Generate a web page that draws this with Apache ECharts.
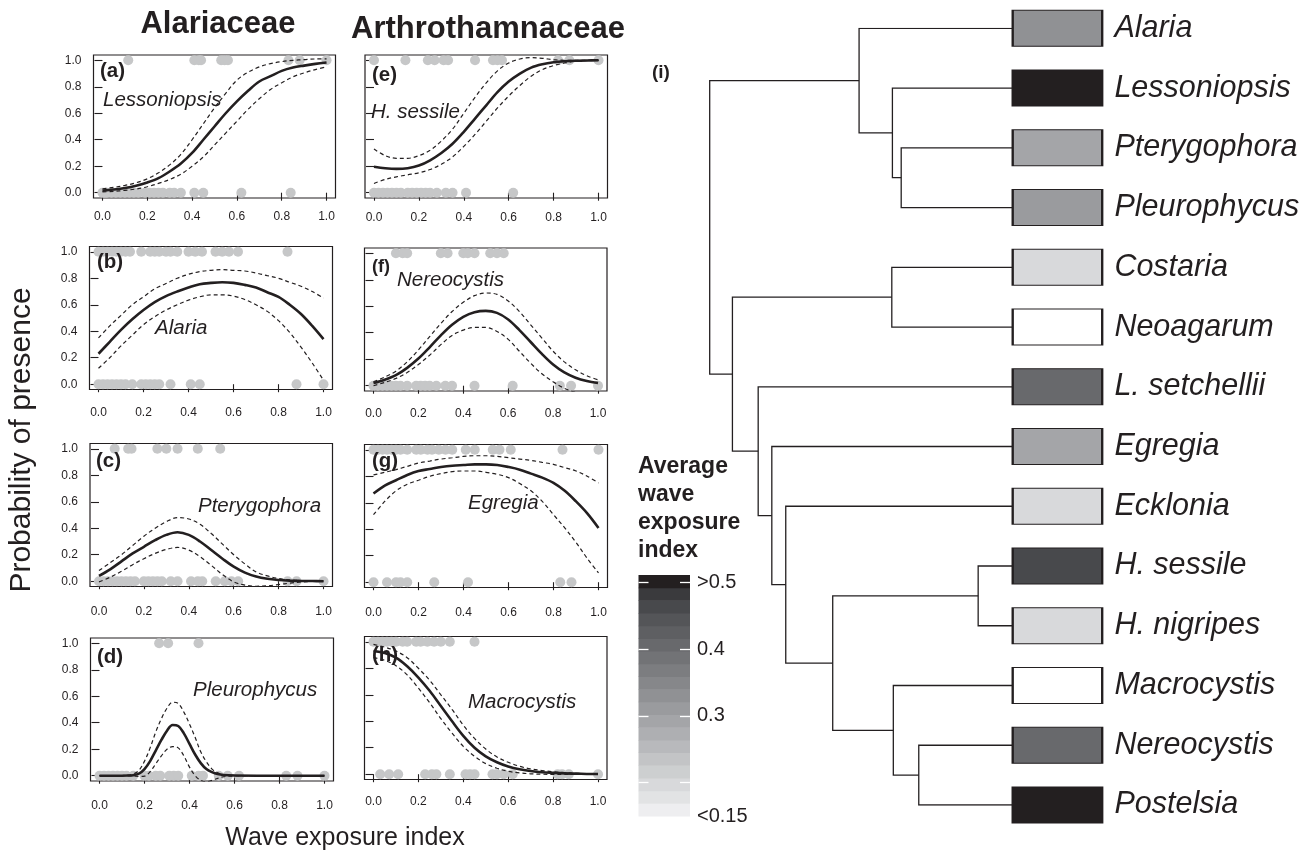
<!DOCTYPE html>
<html><head><meta charset="utf-8">
<script src="https://cdn.jsdelivr.net/npm/echarts@6/dist/echarts.min.js"></script>
<style>html,body{margin:0;padding:0;background:#fff}#c{width:1314px;height:856px}</style>
</head><body><div id="c"></div><script>
// ---------------- DATA ----------------
const tickVals = [0, 0.2, 0.4, 0.6, 0.8, 1.0];
const xGrid = [0,0.05,0.1,0.15,0.2,0.25,0.3,0.35,0.4,0.45,0.5,0.55,0.6,0.65,0.7,0.75,0.8,0.85,0.9,0.95,1.0];
const xGridD = [0,0.05,0.1,0.125,0.15,0.175,0.2,0.225,0.25,0.275,0.3,0.325,0.35,0.375,0.4,0.425,0.45,0.475,0.5,0.525,0.55,0.6,0.7,0.8,0.9,1.0];

// (a) Lessoniopsis
const fitA = [0.016,0.024,0.035,0.052,0.077,0.11,0.16,0.22,0.3,0.4,0.5,0.6,0.69,0.77,0.84,0.88,0.92,0.945,0.96,0.973,0.983];
const upA  = [0.03,0.04,0.055,0.075,0.105,0.15,0.21,0.29,0.4,0.52,0.64,0.75,0.85,0.91,0.95,0.975,0.99,1.0,1.005,1.01,1.01];
const loA  = [0.006,0.01,0.018,0.028,0.045,0.07,0.1,0.14,0.2,0.27,0.36,0.45,0.54,0.63,0.71,0.78,0.83,0.875,0.905,0.93,0.95];
const presA = [0.115,0.41,0.43,0.44,0.53,0.545,0.56,0.83,0.88,1.0];
const absA  = [0,0.01,0.02,0.04,0.06,0.08,0.1,0.12,0.14,0.16,0.19,0.21,0.23,0.25,0.27,0.3,0.32,0.35,0.41,0.45,0.62,0.84];
// (b) Alaria
const fitB = [0.23,0.32,0.41,0.49,0.56,0.62,0.665,0.7,0.73,0.755,0.765,0.77,0.765,0.75,0.73,0.695,0.66,0.6,0.53,0.44,0.34];
const upB  = [0.35,0.44,0.52,0.6,0.66,0.72,0.76,0.8,0.83,0.85,0.86,0.865,0.86,0.855,0.84,0.82,0.8,0.77,0.74,0.7,0.65];
const loB  = [0.12,0.2,0.29,0.37,0.45,0.51,0.56,0.6,0.635,0.66,0.675,0.675,0.665,0.64,0.6,0.55,0.48,0.39,0.28,0.16,0.03];
const presB = [0,0.02,0.04,0.06,0.08,0.1,0.12,0.14,0.19,0.23,0.25,0.27,0.3,0.32,0.35,0.4,0.43,0.46,0.52,0.55,0.58,0.62,0.84];
const absB  = [0,0.02,0.04,0.06,0.08,0.1,0.12,0.15,0.19,0.21,0.23,0.25,0.27,0.32,0.41,0.45,0.88,1.0];
// (c) Pterygophora
const fitC = [0.04,0.09,0.15,0.21,0.26,0.31,0.35,0.37,0.35,0.3,0.235,0.17,0.11,0.065,0.035,0.018,0.009,0.004,0.002,0.001,0.0];
const upC  = [0.08,0.14,0.2,0.27,0.34,0.4,0.45,0.48,0.47,0.43,0.36,0.28,0.2,0.13,0.07,0.04,0.02,0.01,0.004,0.002,0.0];
const loC  = [-0.005,0.03,0.075,0.125,0.17,0.21,0.24,0.255,0.235,0.185,0.12,0.05,-0.005,-0.03,-0.038,-0.035,-0.025,-0.015,-0.006,-0.002,0.0];
const presC = [0.07,0.13,0.145,0.26,0.3,0.35,0.44,0.54];
const absC  = [0,0.02,0.04,0.06,0.08,0.1,0.12,0.14,0.16,0.2,0.22,0.24,0.26,0.28,0.32,0.35,0.41,0.44,0.46,0.52,0.56,0.59,0.62,0.84,0.88,1.0];
// (d) Pleurophycus
const fitD = [0,0,0,0.001,0.004,0.015,0.05,0.11,0.19,0.27,0.34,0.383,0.375,0.32,0.24,0.16,0.095,0.05,0.027,0.012,0.005,0.001,0,0,0,0];
const upD  = [0,0,0.001,0.004,0.012,0.04,0.11,0.21,0.33,0.43,0.51,0.555,0.545,0.48,0.39,0.29,0.18,0.105,0.05,0.022,0.009,0.002,0,0,0,0];
const loD  = [0,0,0,-0.001,-0.003,-0.005,-0.003,0.03,0.09,0.15,0.2,0.22,0.21,0.15,0.065,0.0,-0.035,-0.045,-0.035,-0.02,-0.008,-0.002,0,0,0,0];
const presD = [0.265,0.305,0.44];
const absD  = [0,0.02,0.04,0.06,0.08,0.1,0.12,0.15,0.2,0.22,0.25,0.27,0.31,0.33,0.35,0.41,0.44,0.46,0.53,0.57,0.62,0.83,0.88,1.0];
// (e) H. sessile
const fitE = [0.196,0.185,0.18,0.185,0.205,0.245,0.3,0.37,0.46,0.56,0.66,0.76,0.84,0.9,0.945,0.97,0.985,0.993,0.997,0.999,1.0];
const upE  = [0.33,0.28,0.26,0.26,0.28,0.32,0.39,0.48,0.6,0.72,0.83,0.92,0.98,1.01,1.02,1.015,1.005,1.0,1.0,1.0,1.0];
const loE  = [0.07,0.1,0.12,0.135,0.15,0.175,0.215,0.27,0.35,0.44,0.54,0.64,0.73,0.81,0.88,0.93,0.96,0.98,0.993,0.998,1.0];
const presE = [0,0.14,0.24,0.27,0.31,0.33,0.45,0.53,0.55,0.57,0.82,0.87,1.0];
const absE  = [0,0.02,0.04,0.06,0.08,0.1,0.12,0.15,0.17,0.19,0.21,0.23,0.25,0.28,0.32,0.35,0.41,0.62];
// (f) Nereocystis
const fitF = [0.02,0.045,0.08,0.135,0.205,0.29,0.38,0.46,0.52,0.555,0.565,0.55,0.5,0.42,0.33,0.24,0.16,0.1,0.06,0.035,0.02];
const upF  = [0.03,0.065,0.11,0.18,0.27,0.37,0.47,0.56,0.63,0.68,0.7,0.69,0.64,0.56,0.46,0.36,0.26,0.18,0.12,0.075,0.045];
const loF  = [0.0,0.025,0.055,0.1,0.16,0.23,0.31,0.38,0.42,0.44,0.44,0.41,0.35,0.26,0.17,0.09,0.03,-0.02,-0.05,-0.07,-0.08];
const presF = [0.1,0.13,0.15,0.3,0.33,0.4,0.42,0.45,0.52,0.55,0.58];
const absF  = [0,0.02,0.04,0.06,0.08,0.1,0.12,0.15,0.19,0.21,0.23,0.25,0.28,0.32,0.35,0.45,0.62,0.83,0.88,1.0];
// (g) Egregia
const fitG = [0.67,0.73,0.77,0.81,0.84,0.855,0.87,0.88,0.885,0.89,0.89,0.885,0.87,0.85,0.82,0.79,0.75,0.69,0.61,0.52,0.41];
const upG  = [0.81,0.83,0.85,0.875,0.9,0.915,0.93,0.94,0.95,0.955,0.955,0.95,0.94,0.93,0.92,0.905,0.89,0.865,0.84,0.8,0.75];
const loG  = [0.51,0.61,0.69,0.74,0.77,0.8,0.82,0.835,0.84,0.84,0.83,0.815,0.79,0.745,0.69,0.61,0.51,0.41,0.3,0.18,0.07];
const presG = [0,0.02,0.04,0.06,0.08,0.1,0.12,0.15,0.19,0.21,0.24,0.26,0.29,0.32,0.35,0.41,0.45,0.53,0.56,0.61,0.84,1.0];
const absG  = [0,0.06,0.1,0.12,0.15,0.27,0.42,0.83,0.88];
// (h) Macrocystis
const fitH = [0.93,0.915,0.88,0.815,0.73,0.63,0.515,0.4,0.29,0.2,0.135,0.09,0.058,0.037,0.024,0.015,0.01,0.006,0.004,0.002,0.001];
const upH  = [0.98,0.96,0.93,0.88,0.8,0.71,0.6,0.49,0.37,0.27,0.19,0.13,0.09,0.06,0.04,0.028,0.018,0.012,0.007,0.004,0.002];
const loH  = [0.88,0.86,0.82,0.75,0.65,0.54,0.42,0.31,0.21,0.135,0.08,0.045,0.022,0.01,0.003,0.0,-0.002,-0.002,0.0,0.0,0.0];
const presH = [0,0.02,0.04,0.06,0.08,0.1,0.13,0.15,0.19,0.21,0.24,0.27,0.3,0.34,0.45];
const absH  = [0.03,0.07,0.11,0.23,0.26,0.28,0.34,0.41,0.43,0.45,0.53,0.55,0.58,0.62,0.82,0.84,0.87,1.0];

const panelLetters = ['(a)','(b)','(c)','(d)','(e)','(f)','(g)','(h)'];
const panelSpecies = ['Lessoniopsis','Alaria','Pterygophora','Pleurophycus','H. sessile','Nereocystis','Egregia','Macrocystis'];
const familyTitles = ['Alariaceae','Arthrothamnaceae'];

// Dendrogram
const tipNames = ['Alaria','Lessoniopsis','Pterygophora','Pleurophycus','Costaria','Neoagarum','L. setchellii','Egregia','Ecklonia','H. sessile','H. nigripes','Macrocystis','Nereocystis','Postelsia'];
const tipExposure = [0.33,0.52,0.29,0.32,0.195,0.12,0.405,0.29,0.19,0.46,0.19,0.12,0.405,0.52];
const mergeLeft   = ['Pterygophora','Lessoniopsis','Alaria','Costaria','H. sessile','Nereocystis','Macrocystis','m4','Ecklonia','Egregia','L. setchellii','m3','m2'];
const mergeRight  = ['Pleurophycus','m0','m1','Neoagarum','H. nigripes','Postelsia','m5','m6','m7','m8','m9','m10','m11'];
const mergeHeight = [0.368,0.397,0.507,0.399,0.114,0.310,0.394,0.594,0.749,0.795,0.840,0.925,1.0];

// Colour key
const keyBandLow  = [0.150,0.169,0.188,0.207,0.226,0.245,0.264,0.283,0.302,0.321,0.340,0.359,0.378,0.397,0.416,0.435,0.454,0.473,0.492];
const keyBandHigh = [0.169,0.188,0.207,0.226,0.245,0.264,0.283,0.302,0.321,0.340,0.359,0.378,0.397,0.416,0.435,0.454,0.473,0.492,0.511];
const keyTicks = [0.2,0.3,0.4,0.5];
const keyLabelVals = [0.15,0.3,0.4,0.5];
const keyTitle = 'Average\nwave\nexposure\nindex';

// ---------------- STYLE / LAYOUT ----------------
const INK = '#231f20', DOT = '#c6c7c8', FONT = '"Liberation Sans", Arial, sans-serif';
const keyPalette = ['#eeeef0','#e2e3e4','#d8d9db','#cdcfd0','#c3c4c6','#b8b9bc','#aeafb2','#a4a5a8','#9a9b9e','#909194','#86878a','#7c7d80','#727376','#68696c','#5e5f62','#545558','#48494c','#3a3a3d','#231f20'];
function exposureColor(v){
  if (v < keyBandLow[0]) return '#ffffff';
  for (let i = keyBandLow.length-1; i >= 0; i--) if (v >= keyBandLow[i]) return keyPalette[i];
  return keyPalette[0];
}

const panels = [
  {xs:xGrid, fit:fitA, up:upA, lo:loA, pres:presA, abs:absA, left:93.5, top:55,    w:242,   h:143, col:0, lm:11},
  {xs:xGrid, fit:fitB, up:upB, lo:loB, pres:presB, abs:absB, left:89.5, top:246.5, w:243,   h:143, col:0, lm:15},
  {xs:xGrid, fit:fitC, up:upC, lo:loC, pres:presC, abs:absC, left:90,   top:443.5, w:242.5, h:143, col:0, lm:17},
  {xs:xGridD,fit:fitD, up:upD, lo:loD, pres:presD, abs:absD, left:90.5, top:638,   w:243,   h:143, col:0, lm:17},
  {xs:xGrid, fit:fitE, up:upE, lo:loE, pres:presE, abs:absE, left:365,  top:55,    w:242.5, h:143, col:1, lm:12},
  {xs:xGrid, fit:fitF, up:upF, lo:loF, pres:presF, abs:absF, left:364.5,top:248,   w:242.5, h:143, col:1, lm:15},
  {xs:xGrid, fit:fitG, up:upG, lo:loG, pres:presG, abs:absG, left:364.5,top:444.5, w:243,   h:143, col:1, lm:17},
  {xs:xGrid, fit:fitH, up:upH, lo:loH, pres:presH, abs:absH, left:364.5,top:636.5, w:242.5, h:143, col:1, lm:14}
];
const letterPos  = [[100,71],[97,262],[96,461],[97,657],[372,75],[372,267],[372,461],[372,655]];
const speciesPos = [[103,100],[155,328],[198,506],[193,690],[371,112],[397,280],[468,503],[468,702]];
const letterSize = [20.5,20.5,20.5,20.5,20.5,18,20.5,20.5];

const grids = [], xAxes = [], yAxes = [], series = [], graphics = [];
const pair = (xs, ys) => xs.map((x,i)=>[x, ys[i]]);

panels.forEach((p, i) => {
  grids.push({left:p.left, top:p.top, width:p.w, height:p.h, show:true, borderColor:INK, borderWidth:1.2, backgroundColor:'transparent'});
  xAxes.push({gridIndex:i, type:'value', min:-0.04, max:1.04, offset:2,
    axisLine:{show:false}, splitLine:{show:false},
    axisTick:{show:true, customValues:tickVals, length:8, lineStyle:{color:INK, width:1.1}},
    axisLabel:{show:true, customValues:tickVals, formatter:v=>v.toFixed(1), fontSize:12, color:INK, fontFamily:FONT, margin:p.lm}});
  yAxes.push({gridIndex:i, type:'value', min:-0.04, max:1.04,
    axisLine:{show:false}, splitLine:{show:false},
    axisTick:{show:true, customValues:tickVals, length:8, lineStyle:{color:INK, width:1.1}},
    axisLabel:{show:p.col===0, customValues:tickVals, formatter:v=>v.toFixed(1), fontSize:12, color:INK, fontFamily:FONT, margin:12}});
  series.push({type:'scatter', xAxisIndex:i, yAxisIndex:i, symbolSize:10, itemStyle:{color:DOT, opacity:1}, z:1, clip:false,
    data: p.pres.map(x=>[x,1]).concat(p.abs.map(x=>[x,0]))});
  series.push({type:'line', xAxisIndex:i, yAxisIndex:i, data:pair(p.xs,p.up), showSymbol:false, smooth:0.35, z:3,
    lineStyle:{color:INK, width:1.2, type:[4,3]}});
  series.push({type:'line', xAxisIndex:i, yAxisIndex:i, data:pair(p.xs,p.lo), showSymbol:false, smooth:0.35, z:3,
    lineStyle:{color:INK, width:1.2, type:[4,3]}});
  series.push({type:'line', xAxisIndex:i, yAxisIndex:i, data:pair(p.xs,p.fit), showSymbol:false, smooth:0.35, z:4,
    lineStyle:{color:INK, width:2.6}});
  graphics.push({type:'text', x:letterPos[i][0], y:letterPos[i][1], style:{text:panelLetters[i], fontSize:letterSize[i], fontWeight:'bold', fontFamily:FONT, fill:INK, textVerticalAlign:'middle'}, z:10});
  graphics.push({type:'text', x:speciesPos[i][0], y:speciesPos[i][1], style:{text:panelSpecies[i], fontSize:20.5, fontStyle:'italic', fontFamily:FONT, fill:INK, textVerticalAlign:'middle'}, z:10});
});

// Colour key grid
const KG = grids.length, KX = xAxes.length, KY = yAxes.length;
grids.push({left:638.5, top:575, width:51.5, height:241, show:false});
xAxes.push({gridIndex:KG, type:'value', min:0, max:1, show:false});
yAxes.push({gridIndex:KG, type:'value', min:0.15, max:0.511, position:'left', z:10,
  axisLine:{show:false}, splitLine:{show:false}, axisLabel:{show:false},
  axisTick:{show:true, inside:true, customValues:keyTicks, length:10, lineStyle:{color:'#ffffff', width:1.3}}});
yAxes.push({gridIndex:KG, type:'value', min:0.15, max:0.511, position:'right', z:10,
  axisLine:{show:false}, splitLine:{show:false},
  axisTick:{show:true, inside:true, customValues:keyTicks, length:10, lineStyle:{color:'#ffffff', width:1.3}},
  axisLabel:{show:true, customValues:keyLabelVals, margin:7, fontSize:20, color:INK, fontFamily:FONT,
    formatter:v=> v>=0.5 ? '>0.5' : (v<=0.15 ? '<0.15' : v.toFixed(1))}});
series.push({type:'custom', xAxisIndex:KX, yAxisIndex:KY, z:2,
  data: keyBandLow.map((lo,i)=>[lo, keyBandHigh[i], i]),
  renderItem:(params, api)=>{
    const a = api.coord([0, api.value(1)]);
    const b = api.coord([1, api.value(0)]);
    return {type:'rect', shape:{x:a[0], y:a[1], width:b[0]-a[0], height:b[1]-a[1]+0.5},
      style:{fill:keyPalette[api.value(2)]}};
  }});
graphics.push({type:'text', x:638, y:453, style:{text:keyTitle, fontSize:23, fontWeight:'bold', fontFamily:FONT, fill:INK, lineHeight:28}, z:10});

// Dendrogram grid
const DG = grids.length, DX = xAxes.length, DY = yAxes.length;
grids.push({left:709.7, top:28.3, width:303, height:776.7, show:false});
xAxes.push({gridIndex:DG, type:'value', min:0, max:1, inverse:true, show:false});
yAxes.push({gridIndex:DG, type:'value', min:0, max:13, inverse:true, show:false});
const nodes = {};
tipNames.forEach((n,i)=>{ nodes[n] = {h:0, y:i}; });
const segs = [];
mergeLeft.forEach((l,i)=>{
  const A = nodes[l], B = nodes[mergeRight[i]], h = mergeHeight[i];
  segs.push({coords:[[A.h, A.y],[h, A.y],[h, B.y],[B.h, B.y]]});
  nodes['m'+i] = {h:h, y:(A.y+B.y)/2};
});
series.push({type:'lines', coordinateSystem:'cartesian2d', xAxisIndex:DX, yAxisIndex:DY, polyline:true,
  lineStyle:{color:INK, width:1.3, opacity:1}, data:segs, z:2});
series.push({type:'scatter', xAxisIndex:DX, yAxisIndex:DY, symbol:'rect', symbolSize:[89.5,36], symbolOffset:[44.75,0], clip:false, z:3,
  data: tipNames.map((n,i)=>({name:n, value:[0,i], itemStyle:{color:exposureColor(tipExposure[i])}})),
  itemStyle:{borderColor:INK, borderWidth:1.5, opacity:1},
  emphasis:{disabled:true},
  label:{show:true, position:'right', distance:11, formatter:'{b}', fontSize:30.5, fontStyle:'italic', fontFamily:FONT, color:INK, opacity:1}});
graphics.push({type:'text', x:652, y:73, style:{text:'(i)', fontSize:19, fontWeight:'bold', fontFamily:FONT, fill:INK, textVerticalAlign:'middle'}, z:10});

// Titles & axis titles
graphics.push({type:'text', x:218, y:24, style:{text:familyTitles[0], fontSize:31, fontWeight:'bold', fontFamily:FONT, fill:INK, textAlign:'center', textVerticalAlign:'middle'}});
graphics.push({type:'text', x:488, y:29, style:{text:familyTitles[1], fontSize:31, fontWeight:'bold', fontFamily:FONT, fill:INK, textAlign:'center', textVerticalAlign:'middle'}});
graphics.push({type:'text', x:345, y:838, style:{text:'Wave exposure index', fontSize:25, fontFamily:FONT, fill:INK, textAlign:'center', textVerticalAlign:'middle'}});
graphics.push({type:'text', x:22, y:440, rotation:Math.PI/2, style:{text:'Probability of presence', fontSize:30, fontFamily:FONT, fill:INK, textAlign:'center', textVerticalAlign:'middle'}});

const chart = echarts.init(document.getElementById('c'), null, {renderer:'canvas'});
chart.setOption({animation:false, backgroundColor:'#ffffff', grid:grids, xAxis:xAxes, yAxis:yAxes, series:series, graphic:graphics});
</script></body></html>
